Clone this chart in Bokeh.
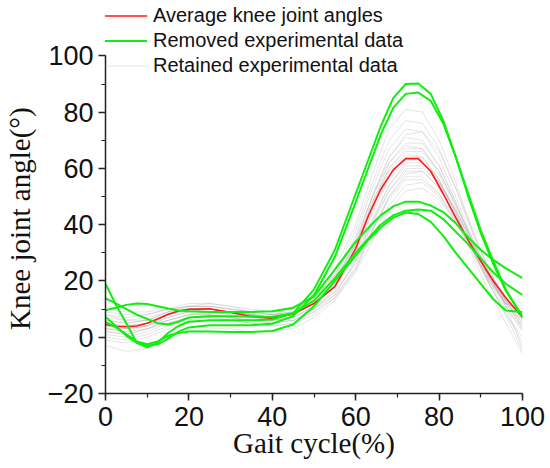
from bokeh.plotting import figure
from bokeh.models import SingleIntervalTicker, Legend, LegendItem, Range1d, ColumnDataSource
from bokeh.embed import file_html
from bokeh.resources import INLINE

# x positions (gait cycle %) for the average and removed curves
X = [0, 2.5, 5, 7.5, 10, 12.5, 15, 17.5, 20, 25, 30, 35, 40, 45, 50, 55, 60,
     63, 66, 69, 72, 75, 78, 81, 84, 87, 90, 93, 96, 100]

avg_angle = [4.5, 3.9, 3.7, 4.0, 5.0, 6.5, 8.2, 9.3, 9.9, 10.1, 8.8, 7.4, 6.7, 8.3, 12.0, 18.0, 31.5,
             43.0, 52.5, 59.5, 63.5, 63.5, 59.0, 51.0, 42.5, 34.5, 27.0, 20.0, 14.0, 7.0]

removed_1 = [19.0, 11.5, 5.0, -2.0, -3.6, -2.0, 1.5, 4.0, 5.5, 6.0, 6.0, 6.0, 6.3, 8.5, 17.0, 31.0, 51.0,
             63.0, 75.0, 85.0, 90.0, 90.2, 86.5, 77.0, 64.0, 50.0, 37.0, 26.0, 16.5, 7.5]
removed_2 = [7.2, 4.0, 0.5, -2.0, -3.0, -2.5, -0.5, 2.0, 3.5, 4.3, 4.3, 4.3, 4.8, 7.5, 15.0, 28.5, 48.0,
             60.0, 72.0, 81.5, 86.5, 87.0, 84.0, 76.0, 64.0, 51.0, 38.0, 27.0, 17.0, 7.0]
removed_3 = [9.6, 10.5, 11.5, 12.0, 11.8, 11.0, 10.2, 9.5, 9.2, 9.0, 9.0, 9.0, 9.2, 10.5, 14.5, 24.0, 34.0,
             38.8, 43.3, 46.5, 48.2, 48.2, 46.8, 44.5, 40.5, 35.5, 31.0, 27.5, 24.5, 21.0]
removed_4 = [13.8, 12.0, 10.0, 8.0, 6.5, 5.0, 4.5, 5.5, 7.0, 7.5, 7.5, 7.3, 7.3, 8.5, 13.0, 21.0, 30.0,
             35.0, 40.0, 43.3, 45.0, 45.4, 45.0, 42.0, 37.5, 33.0, 28.0, 23.0, 19.0, 15.0]
removed_5 = [5.5, 3.5, 1.0, -1.5, -2.5, -1.5, 0.5, 1.5, 2.0, 2.0, 1.9, 1.9, 2.2, 4.5, 11.0, 20.0, 29.0,
             34.5, 39.0, 42.5, 44.3, 43.8, 41.0, 36.0, 30.0, 24.5, 19.0, 13.5, 9.5, 9.0]
removed = [removed_1, removed_2, removed_3, removed_4, removed_5]

# x positions for the retained trials
GX = [0, 5, 10, 15, 20, 25, 30, 35, 40, 45, 50, 55, 60, 64, 68, 72, 76, 80, 84, 88, 92, 96, 100]

retained = [
    [8, 6, 6, 8, 10, 10, 9, 8, 8, 10, 15, 24, 40, 58, 74, 81, 80, 70, 55, 38, 24, 13, 6],
    [6, 5, 6, 9, 11, 11, 10, 9, 8, 9, 14, 22, 38, 55, 70, 77, 76, 67, 53, 37, 23, 13, 5],
    [3, 2, 4, 8, 10, 10, 9, 8, 7, 8, 13, 21, 36, 53, 67, 74, 73, 64, 50, 35, 22, 12, 4],
    [7, 6, 7, 9, 11, 12, 11, 9, 8, 9, 13, 20, 34, 50, 64, 71, 70, 61, 48, 34, 21, 12, 6],
    [2, 1, 3, 6, 8, 9, 8, 7, 6, 7, 11, 18, 32, 48, 62, 69, 69, 61, 48, 34, 22, 11, 2],
    [5, 4, 5, 8, 10, 10, 9, 8, 7, 8, 12, 19, 32, 47, 60, 67, 67, 59, 47, 34, 22, 13, 8],
    [9, 8, 8, 10, 11, 11, 10, 9, 9, 10, 14, 21, 33, 47, 59, 65, 64, 56, 44, 31, 20, 12, 9],
    [1, 0, 2, 5, 7, 8, 7, 6, 5, 6, 10, 17, 30, 45, 57, 64, 64, 56, 44, 31, 19, 8, 0],
    [4, 3, 4, 7, 9, 10, 9, 8, 7, 8, 12, 18, 30, 44, 56, 63, 63, 56, 45, 33, 22, 13, 7],
    [6, 5, 6, 9, 10, 10, 9, 8, 7, 8, 12, 18, 29, 42, 54, 61, 61, 55, 45, 33, 21, 11, 4],
    [3, 2, 3, 6, 8, 8, 7, 6, 5, 6, 10, 16, 27, 40, 52, 60, 60, 55, 45, 34, 23, 14, 8],
    [8, 7, 8, 10, 11, 11, 10, 9, 8, 9, 12, 18, 29, 41, 52, 59, 59, 53, 43, 31, 20, 12, 10],
    [0, -1, 1, 4, 6, 7, 6, 5, 4, 5, 8, 14, 25, 38, 50, 57, 57, 51, 41, 30, 19, 9, -2],
    [5, 4, 5, 8, 9, 9, 8, 7, 6, 7, 11, 16, 26, 38, 49, 56, 56, 51, 42, 31, 20, 10, 3],
    [4, 3, 4, 6, 8, 8, 7, 6, 6, 7, 10, 15, 24, 36, 47, 54, 55, 50, 41, 31, 21, 12, 5],
    [2, 1, 3, 5, 7, 7, 6, 5, 5, 6, 9, 14, 23, 34, 45, 52, 53, 49, 41, 32, 22, 11, -4],
    [10, 9, 9, 10, 12, 12, 11, 10, 9, 10, 14, 22, 35, 50, 62, 68, 67, 58, 46, 33, 21, 13, 11],
    [5, 3, 4, 7, 9, 10, 9, 8, 7, 8, 12, 19, 33, 50, 64, 72, 73, 66, 53, 38, 24, 13, 3],
    [-1, -2, 0, 3, 5, 6, 6, 5, 4, 5, 9, 15, 27, 41, 54, 62, 62, 55, 44, 31, 19, 8, -5],
    [3, 3, 5, 8, 10, 10, 9, 8, 7, 8, 12, 20, 33, 48, 60, 66, 66, 59, 47, 35, 23, 14, 12],
    [-3, -5, -4, -1, 2, 3, 3, 2, 2, 3, 7, 13, 24, 38, 50, 58, 59, 53, 42, 29, 16, 5, -6],
]

y_axis_min, y_axis_max = -20, 100
tick_interval = 20

p = figure(width=550, height=468, output_backend="svg", toolbar_location=None,
           x_range=Range1d(0, 100), y_range=Range1d(-20, 119.69),
           min_border_left=104, min_border_right=28, min_border_top=0, min_border_bottom=75)
p.background_fill_color = "white"
p.border_fill_color = "white"
p.outline_line_color = None
p.grid.visible = False

gray_src = ColumnDataSource(dict(xs=[GX] * len(retained), ys=retained))
r_gray = p.multi_line("xs", "ys", source=gray_src, line_color="#a8a8a8", line_alpha=0.3, line_width=1)
r_red = p.line(X, avg_angle, line_color="#ff1a1a", line_width=1.6)
green_src = ColumnDataSource(dict(xs=[X] * len(removed), ys=removed))
r_green = p.multi_line("xs", "ys", source=green_src, line_color="#10ee10", line_width=2)

for ax in (p.xaxis[0], p.yaxis[0]):
    ax.axis_line_color = "#222222"
    ax.axis_line_width = 1.5
    ax.major_tick_line_color = "#222222"
    ax.minor_tick_line_color = "#222222"
    ax.major_tick_line_width = 1.5
    ax.minor_tick_line_width = 1.2
    ax.major_tick_out = 7
    ax.major_tick_in = 0
    ax.minor_tick_out = 4
    ax.minor_tick_in = 0
    ax.major_label_text_font = "Liberation Sans"
    ax.major_label_text_font_size = "27px"
    ax.major_label_text_color = "#111111"
    ax.axis_label_text_font = "Liberation Serif"
    ax.axis_label_text_font_size = "29px"
    ax.axis_label_text_font_style = "normal"
    ax.axis_label_text_color = "#111111"

p.xaxis.ticker = SingleIntervalTicker(interval=tick_interval, num_minor_ticks=2)
p.yaxis.ticker = SingleIntervalTicker(interval=tick_interval, num_minor_ticks=2)
p.yaxis.bounds = (y_axis_min, y_axis_max)
p.yaxis.major_label_overrides = {-20: "\u221220"}
p.xaxis.axis_label = "Gait cycle(%)"
# trailing no-break spaces keep the rotated title centred on the -20..100 span
p.yaxis.axis_label = "Knee joint angle(\u00b0)" + "\u00a0" * 6
p.xaxis.major_label_standoff = 6
p.xaxis.axis_label_standoff = -2
p.yaxis.major_label_standoff = 5
p.yaxis.axis_label_standoff = 9

legend = Legend(items=[
    LegendItem(label="Average knee joint angles", renderers=[r_red]),
    LegendItem(label="Removed experimental data", renderers=[r_green]),
    LegendItem(label="Retained experimental data", renderers=[r_gray]),
], location=(-2, 315), orientation="vertical")
legend.padding = 0
legend.margin = 0
legend.spacing = 0
legend.glyph_height = 25
legend.label_height = 25
legend.glyph_width = 44
legend.label_standoff = 6
legend.label_text_font = "Liberation Sans"
legend.label_text_font_size = "20px"
legend.label_text_color = "#111111"
legend.background_fill_alpha = 0
legend.border_line_alpha = 0
p.add_layout(legend, "center")

open("out.html", "w").write(file_html(p, INLINE))
